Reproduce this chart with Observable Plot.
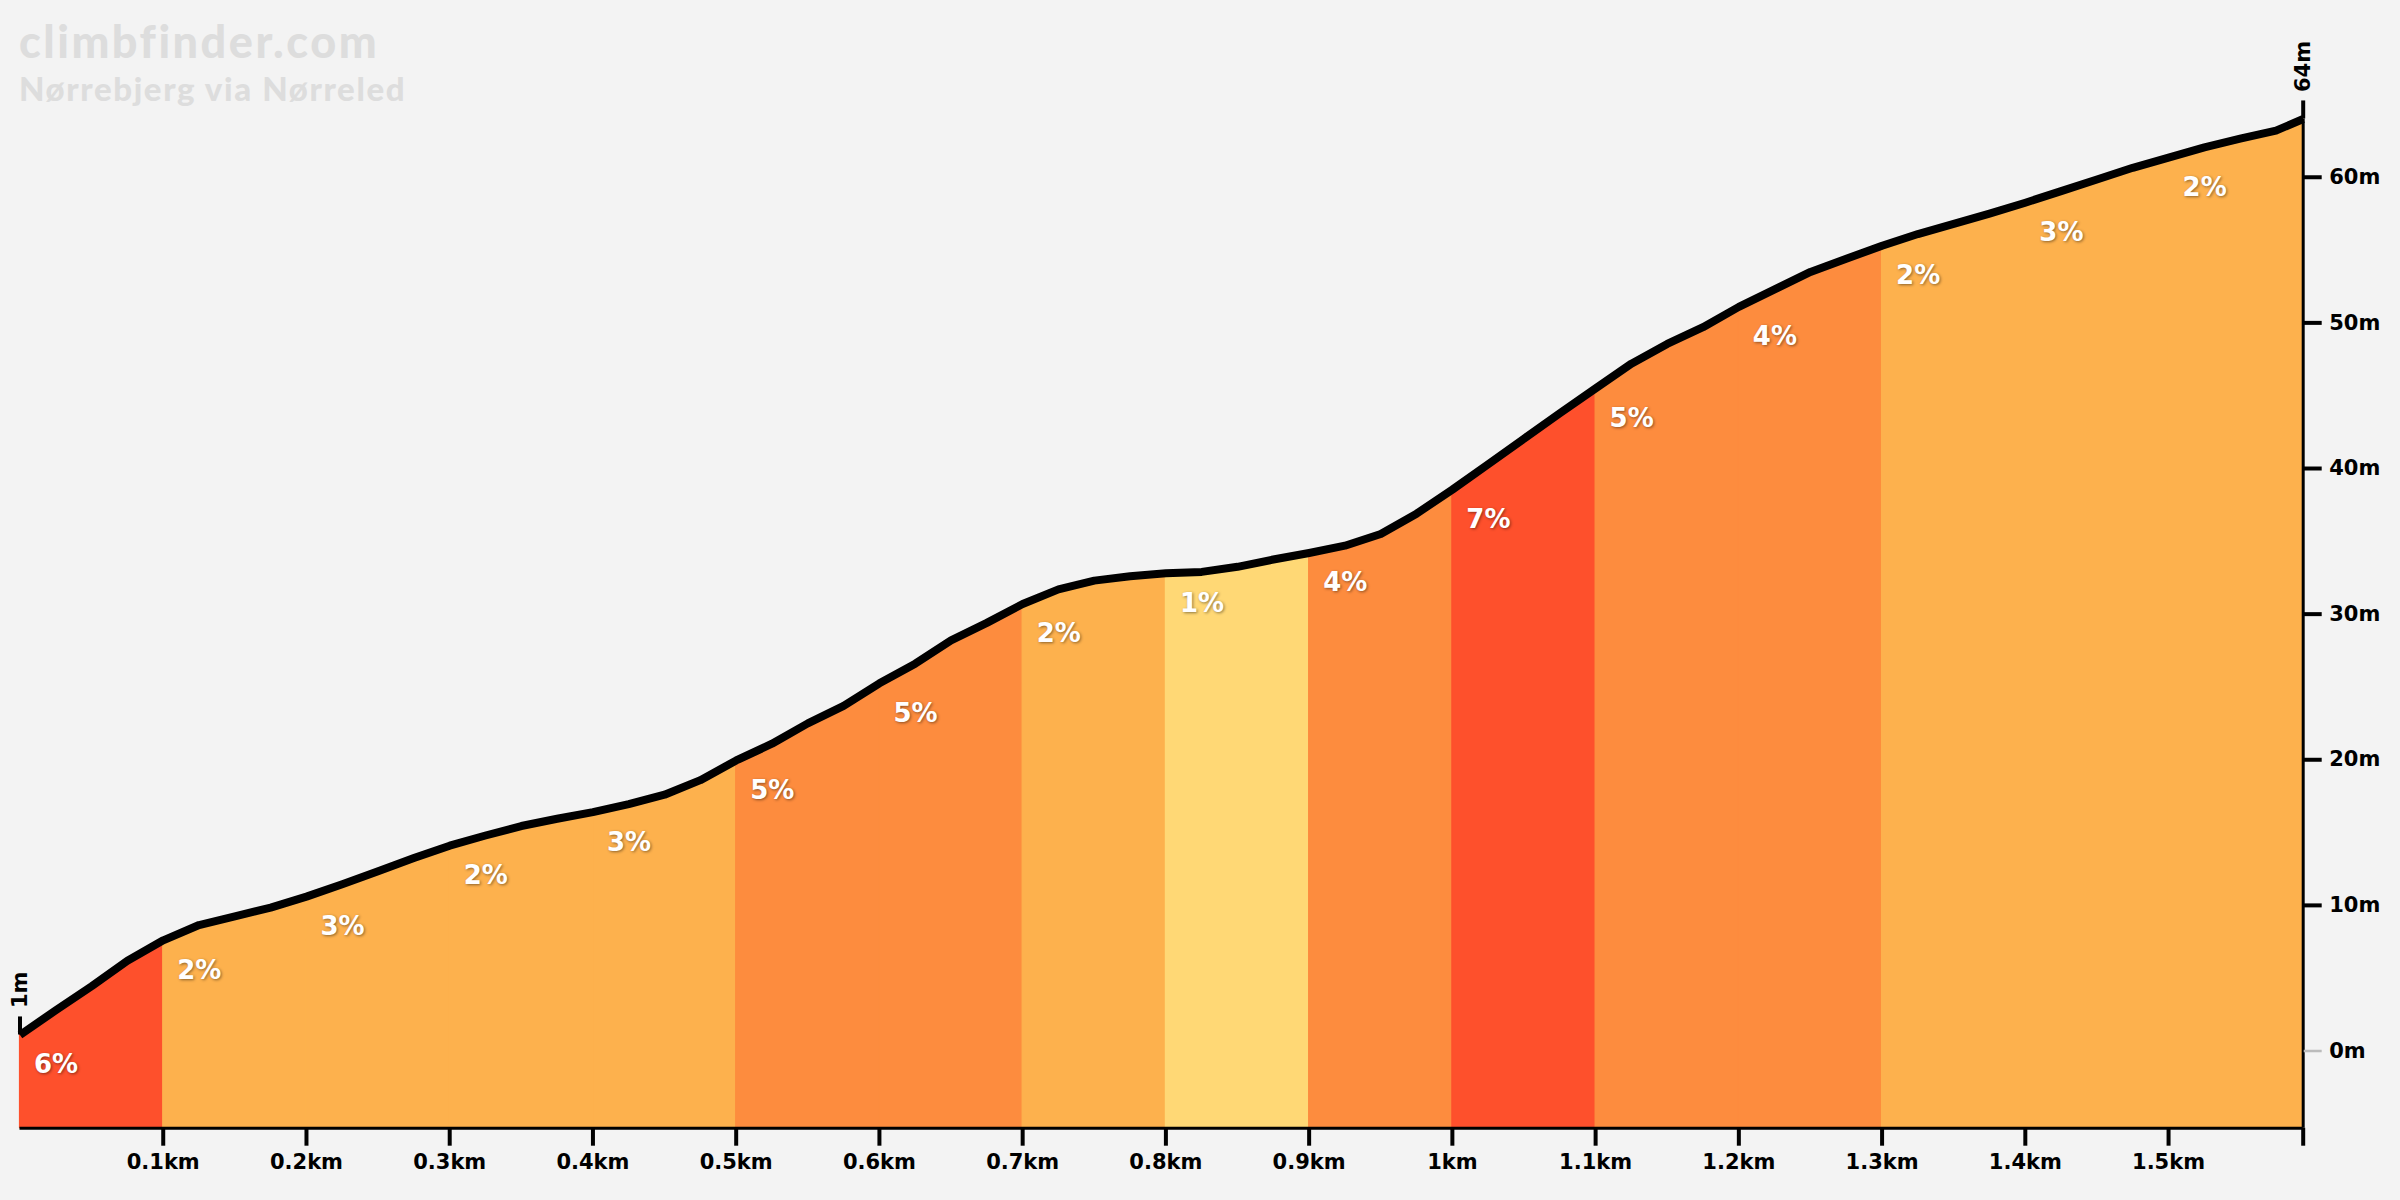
<!DOCTYPE html>
<html>
<head>
<meta charset="utf-8">
<script src="https://cdn.jsdelivr.net/npm/d3@7"></script>
<script src="https://cdn.jsdelivr.net/npm/@observablehq/plot@0.6"></script>
<style>
  html, body { margin: 0; padding: 0; background: #f3f3f3; }
  #wrap { position: relative; width: 2400px; height: 1200px; overflow: hidden; }
  #chart { position: absolute; left: 0; top: 0; }
  .t1, .t2 { position: absolute; left: 19px; font-family: Lato, sans-serif; font-weight: 900; color: #dddddd; white-space: nowrap; }
  .t1 { top: 19px; font-size: 45px; line-height: 45px; letter-spacing: 2.5px; }
  .t2 { top: 72px; font-size: 33px; line-height: 33px; letter-spacing: 1.6px; }
  svg g[aria-label="text"][fill="white"] text { text-shadow: 1px 1px 3px rgba(0,0,0,0.45); }
</style>
</head>
<body>
<div id="wrap">
  <div id="chart"></div>
  <div class="t1">climbfinder.com</div>
  <div class="t2">Nørrebjerg via Nørreled</div>
</div>
<script>
// distance along the climb (km)
const dist = [0, 0.025, 0.05, 0.075, 0.1, 0.125, 0.15, 0.175, 0.2, 0.225, 0.25, 0.275, 0.3, 0.325, 0.35, 0.375,
  0.4, 0.425, 0.45, 0.475, 0.5, 0.525, 0.55, 0.575, 0.6, 0.625, 0.65, 0.675, 0.7, 0.725, 0.75, 0.775,
  0.8, 0.825, 0.85, 0.875, 0.9, 0.925, 0.95, 0.975, 1.0, 1.025, 1.05, 1.075, 1.1, 1.125, 1.15, 1.175,
  1.2, 1.225, 1.25, 1.275, 1.3, 1.325, 1.35, 1.375, 1.4, 1.425, 1.45, 1.475, 1.5, 1.525, 1.55, 1.575, 1.594];
// elevation (m)
const elev = [1.1, 2.8, 4.45, 6.2, 7.6, 8.65, 9.25, 9.85, 10.6, 11.45, 12.35, 13.25, 14.1, 14.8, 15.45, 15.95,
  16.4, 16.95, 17.6, 18.6, 19.95, 21.1, 22.5, 23.7, 25.25, 26.6, 28.2, 29.4, 30.7, 31.7, 32.3, 32.6,
  32.8, 32.9, 33.25, 33.75, 34.2, 34.7, 35.5, 36.9, 38.55, 40.3, 42.05, 43.8, 45.5, 47.2, 48.55, 49.7,
  51.1, 52.3, 53.5, 54.4, 55.3, 56.1, 56.8, 57.5, 58.25, 59.05, 59.85, 60.65, 61.35, 62.05, 62.65, 63.2, 64.0];
// 100 m sections and their gradient labels
const segStart = [0, 0.1, 0.2, 0.3, 0.4, 0.5, 0.6, 0.7, 0.8, 0.9, 1.0, 1.1, 1.2, 1.3, 1.4, 1.5];
const segGrade = ["6%", "2%", "3%", "2%", "3%", "5%", "5%", "2%", "1%", "4%", "7%", "5%", "4%", "2%", "3%", "2%"];
// gradient colour classes
const gradeDomain = ["1%", "2%", "3%", "4%", "5%", "6%", "7%"];
const gradeColors = ["#ffd875", "#fdb14d", "#fdb14d", "#fd8c3e", "#fd8c3e", "#fe502c", "#fe502c"];
// axis ticks
const xTicks = [0.1, 0.2, 0.3, 0.4, 0.5, 0.6, 0.7, 0.8, 0.9, 1, 1.1, 1.2, 1.3, 1.4, 1.5];
const yTicks = [10, 20, 30, 40, 50, 60];
const yZeroTick = [0];
const yMin = -5.3, yMax = 64;
const tickM = 1.24;

const points = dist.map((d, i) => ({d, e: elev[i]}));
const xEnd = dist[dist.length - 1];
const eps = 1e-9;
const areaRows = [];
segStart.forEach((s, i) => {
  const end = i + 1 < segStart.length ? segStart[i + 1] : xEnd;
  points.forEach(p => {
    if (p.d >= s - eps && p.d <= end + eps) areaRows.push({d: p.d, e: p.e, seg: i, grade: segGrade[i]});
  });
});
const labelRows = segStart.map((s, i) => {
  const p = points.find(q => Math.abs(q.d - s) < eps);
  return {d: s, e: p.e, grade: segGrade[i]};
});
const first = points[0], last = points[points.length - 1];
const ends = [
  {d: first.d, e: first.e, label: Math.round(first.e) + "m"},
  {d: last.d, e: last.e, label: Math.round(last.e) + "m"}
];

const chart = Plot.plot({
  width: 2400,
  height: 1200,
  marginLeft: 19.5,
  marginRight: 97.3,
  marginTop: 118.5,
  marginBottom: 72.3,
  style: {background: "transparent", fontFamily: "'DejaVu Sans', sans-serif", fontWeight: "bold", color: "black"},
  x: {domain: [0, xEnd]},
  y: {domain: [yMin, yMax]},
  color: {type: "ordinal", domain: gradeDomain, range: gradeColors},
  marks: [
    Plot.areaY(areaRows, {x: "d", y1: () => yMin, y2: "e", z: "seg", fill: "grade", stroke: "grade", strokeWidth: 1.2}),
    Plot.ruleY([yMin], {stroke: "black", strokeWidth: 3}),
    Plot.ruleX([{d: xEnd, e: last.e}], {x: "d", y1: () => yMin, y2: "e", stroke: "black", strokeWidth: 3}),
    Plot.line(points, {x: "d", y: "e", stroke: "black", strokeWidth: 8, strokeLinejoin: "round", strokeLinecap: "butt"}),
    Plot.ruleX(ends, {x: "d", y1: "e", y2: d => d.e + tickM, stroke: "black", strokeWidth: 4}),
    Plot.text(ends, {x: "d", y: "e", text: "label", rotate: -90, textAnchor: "start", dy: -27, fontSize: 21, fontWeight: "bold", fill: "black"}),
    Plot.text(labelRows, {x: "d", y: "e", text: "grade", textAnchor: "start", dx: 14, dy: 30, fontSize: 26, fontWeight: "bold", fill: "white"}),
    Plot.axisX({ticks: xTicks, tickFormat: d => d + "km", tickSize: 18, tickPadding: 8, fontSize: 21, fontWeight: "bold", strokeWidth: 4, label: null}),
    Plot.axisX({ticks: [xEnd], tickFormat: () => "", tickSize: 18, strokeWidth: 4, label: null}),
    Plot.axisY({anchor: "right", ticks: yTicks, tickFormat: d => d + "m", tickSize: 18, tickPadding: 8, fontSize: 21, fontWeight: "bold", strokeWidth: 4, label: null}),
    Plot.axisY({anchor: "right", ticks: yZeroTick, tickFormat: d => d + "m", tickSize: 18, tickPadding: 8, fontSize: 21, fontWeight: "bold", stroke: "#bbbbbb", fill: "black", strokeWidth: 2.5, label: null})
  ]
});
document.getElementById("chart").appendChild(chart);
</script>
</body>
</html>
